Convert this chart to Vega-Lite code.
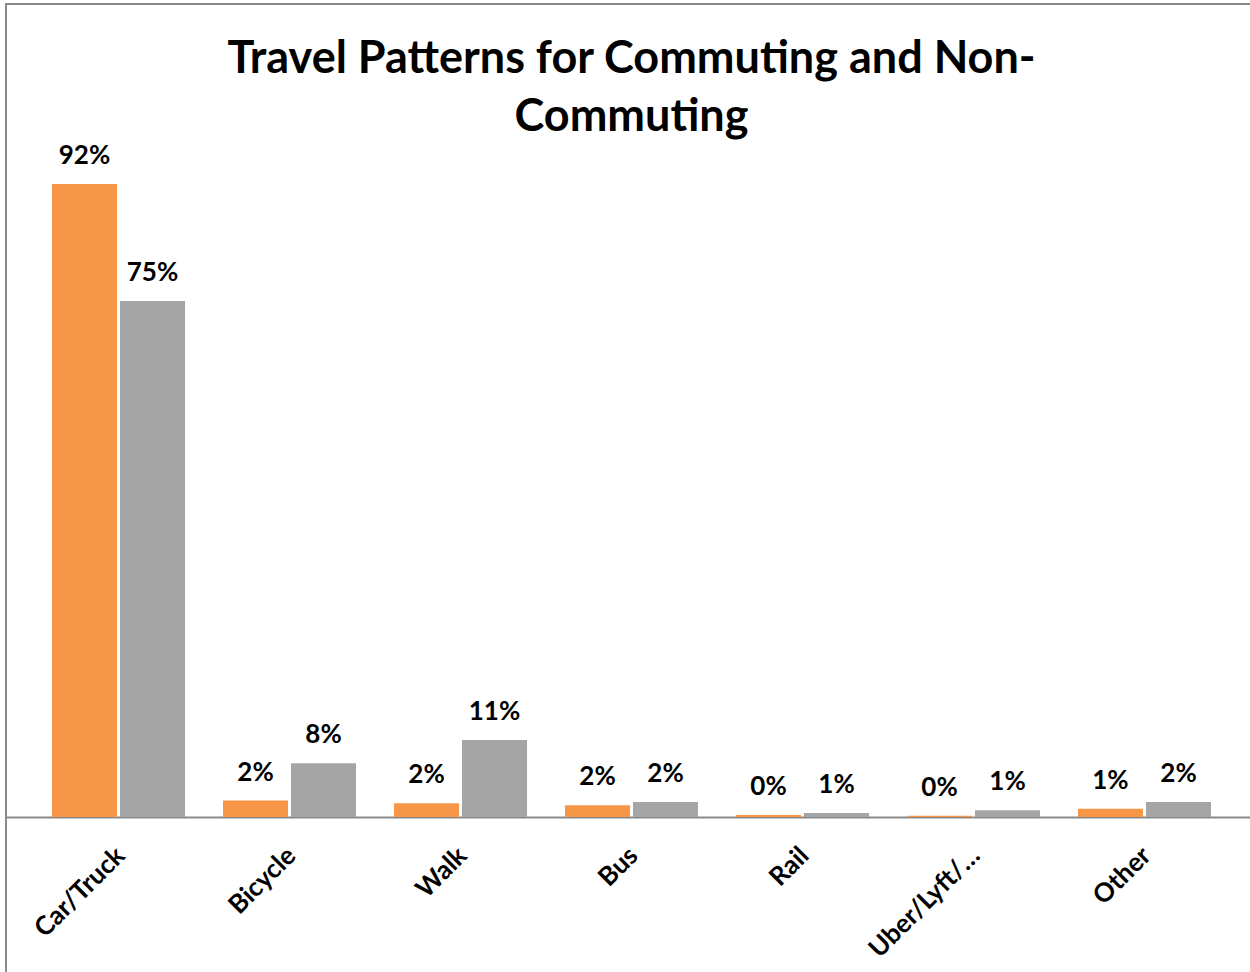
{
  "$schema": "https://vega.github.io/schema/vega-lite/v6.json",
  "autosize": {"type": "none"},
  "padding": {"left": 6, "top": 4, "right": 0, "bottom": 0},
  "width": 1251,
  "height": 976,
  "background": "white",
  "config": {"view": {"stroke": "#8a8a8a", "strokeWidth": 2}, "font": "Lato"},
  "title": {
    "text": ["Travel Patterns for Commuting and Non-", "Commuting"],
    "fontSize": 45,
    "font": "Lato",
    "fontWeight": "bold",
    "color": "#000000",
    "anchor": "middle",
    "frame": "group",
    "baseline": "alphabetic",
    "offset": -172,
    "lineHeight": 58
  },
  "data": {
    "values": [
      {"mode": "Car/Truck", "series": "Commuting", "value": 0.92},
      {"mode": "Car/Truck", "series": "Non-Commuting", "value": 0.75},
      {"mode": "Bicycle", "series": "Commuting", "value": 0.024},
      {"mode": "Bicycle", "series": "Non-Commuting", "value": 0.078},
      {"mode": "Walk", "series": "Commuting", "value": 0.02},
      {"mode": "Walk", "series": "Non-Commuting", "value": 0.112},
      {"mode": "Bus", "series": "Commuting", "value": 0.017},
      {"mode": "Bus", "series": "Non-Commuting", "value": 0.022},
      {"mode": "Rail", "series": "Commuting", "value": 0.003},
      {"mode": "Rail", "series": "Non-Commuting", "value": 0.006},
      {"mode": "Uber/Lyft/…", "series": "Commuting", "value": 0.002},
      {"mode": "Uber/Lyft/…", "series": "Non-Commuting", "value": 0.01},
      {"mode": "Other", "series": "Commuting", "value": 0.012},
      {"mode": "Other", "series": "Non-Commuting", "value": 0.022}
    ]
  },
  "encoding": {
    "x": {
      "field": "mode",
      "type": "nominal",
      "sort": ["Car/Truck", "Bicycle", "Walk", "Bus", "Rail", "Uber/Lyft/…", "Other"],
      "scale": {"paddingInner": 0.222, "paddingOuter": 0.269},
      "axis": {
        "title": null,
        "orient": "bottom",
        "offset": -163,
        "labelAngle": -45,
        "labelFontSize": 26,
        "labelFont": "Lato",
        "labelFontWeight": "bold",
        "labelColor": "#000000",
        "ticks": false,
        "grid": false,
        "domainColor": "#898989",
        "domainWidth": 2,
        "labelPadding": 25,
        "labelOffset": -7
      }
    },
    "xOffset": {
      "field": "series",
      "type": "nominal",
      "sort": ["Commuting", "Non-Commuting"],
      "scale": {"paddingInner": 0.044, "paddingOuter": 0}
    },
    "y": {
      "field": "value",
      "type": "quantitative",
      "scale": {"domain": [-0.2369, 1.1817], "nice": false, "zero": false},
      "axis": null
    }
  },
  "layer": [
    {
      "mark": {"type": "bar"},
      "encoding": {
        "color": {
          "field": "series",
          "type": "nominal",
          "scale": {"domain": ["Commuting", "Non-Commuting"], "range": ["#F79646", "#A5A5A5"]},
          "legend": null
        }
      }
    },
    {
      "mark": {"type": "text", "baseline": "bottom", "dy": -15, "fontSize": 26, "fontWeight": "bold", "font": "Lato", "color": "#000000"},
      "encoding": {"text": {"field": "value", "type": "quantitative", "format": ".0%"}}
    }
  ]
}
